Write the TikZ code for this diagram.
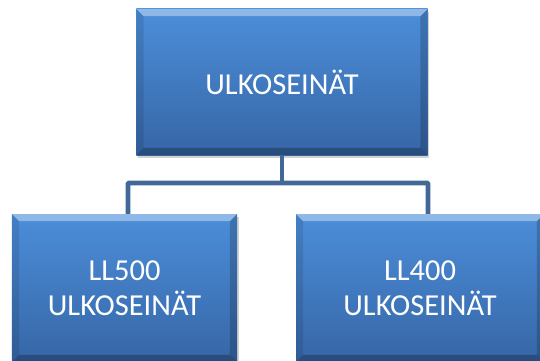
\documentclass[tikz,border=0pt]{standalone}
\usepackage{fontspec}
\setmainfont{Carlito}
\usetikzlibrary{shadows}
\definecolor{ylasin}{RGB}{76,142,218}
\definecolor{alasin}{RGB}{54,102,166}
\definecolor{viiva}{RGB}{66,104,152}
\def\viiste{6pt}
\tikzset{
	laatikko/.style={rectangle,inner sep=0pt,top color=ylasin,bottom color=alasin,
		text=white,align=center,font=\fontsize{26}{30}\selectfont,
		drop shadow={opacity=0.35,shadow xshift=1.5pt,shadow yshift=-2.5pt},
		path picture={
			% viisteet reunoille
			\fill[white,opacity=0.38] (path picture bounding box.north west) -- (path picture bounding box.north east)
				-- ([xshift=-\viiste,yshift=-\viiste]path picture bounding box.north east) -- ([xshift=\viiste,yshift=-\viiste]path picture bounding box.north west) -- cycle;
			\fill[black,opacity=0.25] (path picture bounding box.south west) -- (path picture bounding box.south east)
				-- ([xshift=-\viiste,yshift=\viiste]path picture bounding box.south east) -- ([xshift=\viiste,yshift=\viiste]path picture bounding box.south west) -- cycle;
			\fill[black,opacity=0.1] (path picture bounding box.south west) -- (path picture bounding box.north west)
				-- ([xshift=\viiste,yshift=-\viiste]path picture bounding box.north west) -- ([xshift=\viiste,yshift=\viiste]path picture bounding box.south west) -- cycle;
			\fill[black,opacity=0.18] (path picture bounding box.south east) -- (path picture bounding box.north east)
				-- ([xshift=-\viiste,yshift=-\viiste]path picture bounding box.north east) -- ([xshift=-\viiste,yshift=\viiste]path picture bounding box.south east) -- cycle;
		}},
	haara/.style={draw=viiva,line width=4.2pt,rounded corners=1pt}
}
\begin{document}
\begin{tikzpicture}[x=0.03cm,y=-0.03cm]
	\useasboundingbox (0,0) rectangle (540,360);
	\clip (0,0) rectangle (540,360);
	\fill[white] (0,0) rectangle (540,360);
	\node[laatikko,minimum width=8.73cm,minimum height=4.38cm] (ulko) at (282,82) {ULKOSEINÄT};
	\node[laatikko,minimum width=6.75cm,minimum height=4.44cm] (ll500) at (124.5,288) {LL500\\ULKOSEINÄT};
	\node[laatikko,minimum width=7.44cm,minimum height=4.44cm] (ll400) at (420,288) {LL400\\ULKOSEINÄT};
	\coordinate (liitos) at (282,183);
	\coordinate (vasen) at (128,183);
	\coordinate (oikea) at (428,183);
	\draw[haara] (ulko.south) -- (liitos);
	\draw[haara] (vasen |- ll500.north) -- (vasen) -- (oikea) -- (oikea |- ll400.north);
\end{tikzpicture}
\end{document}
